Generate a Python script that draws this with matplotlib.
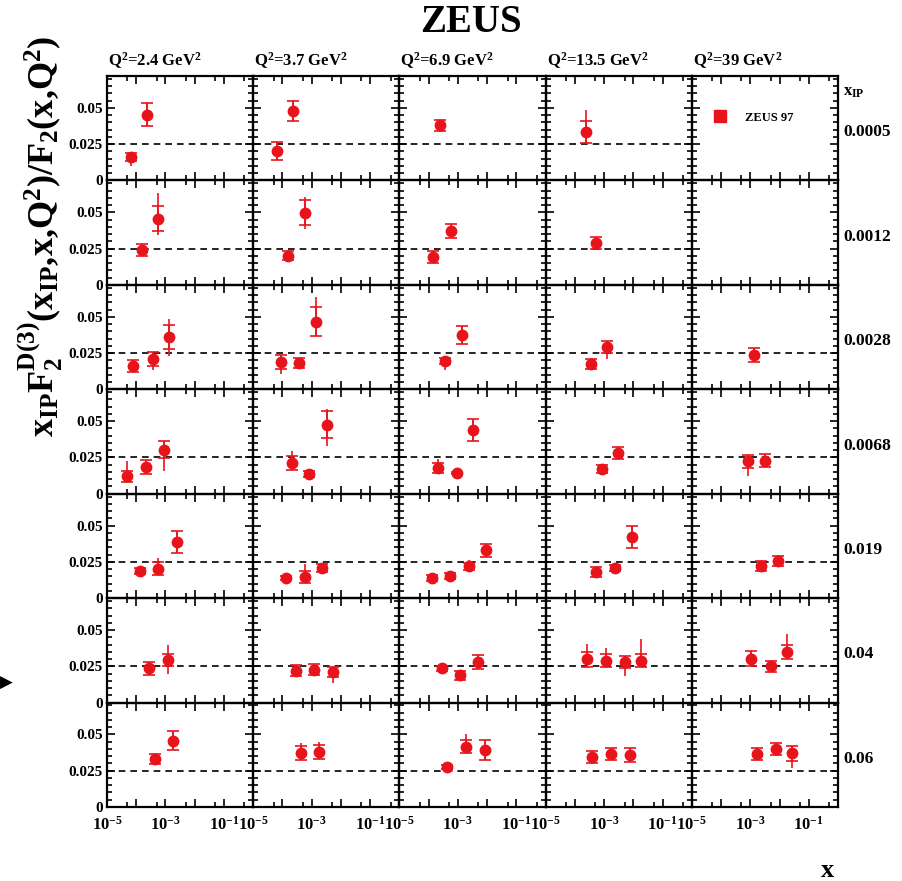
import numpy as np
import matplotlib
matplotlib.use('Agg')
import matplotlib.pyplot as plt
from matplotlib.ticker import FixedLocator, FixedFormatter, NullFormatter
from matplotlib.lines import Line2D

plt.rcParams['font.family'] = ['Liberation Serif', 'DejaVu Serif']
plt.rcParams['font.weight'] = 'bold'
plt.rcParams['mathtext.fontset'] = 'custom'
plt.rcParams['mathtext.rm'] = 'Liberation Serif:bold'
plt.rcParams['mathtext.it'] = 'Liberation Serif:bold'
plt.rcParams['mathtext.bf'] = 'Liberation Serif:bold'

# ---------------- data ----------------
q2_labels = [r'Q$^2$=2.4 GeV$^2$', r'Q$^2$=3.7 GeV$^2$', r'Q$^2$=6.9 GeV$^2$',
             r'Q$^2$=13.5 GeV$^2$', r'Q$^2$=39 GeV$^2$']
xpom_labels = ['0.0005', '0.0012', '0.0028', '0.0068', '0.019', '0.04', '0.06']
x_ticklabels = [r'10$^{-5}$', r'10$^{-3}$', r'10$^{-1}$']
y_ticklabels = ['0', '0.025', '0.05']

# x_IP = 0.0005
r1_col = [0, 0, 1, 1, 2, 3]
r1_x = [6.6e-5, 2.4e-4, 6.3e-5, 2.35e-4, 2.4e-4, 2.4e-4]
r1_y = [0.0161, 0.0454, 0.0202, 0.0477, 0.0380, 0.0334]
r1_stat = [0.0030, 0.0078, 0.0060, 0.0068, 0.0040, 0.0074]
r1_totlo = [0.0064, 0.0078, 0.0060, 0.0068, 0.0040, 0.0080]
r1_tothi = [0.0030, 0.0078, 0.0060, 0.0068, 0.0040, 0.0150]

# x_IP = 0.0012
r2_col = [0, 0, 1, 1, 2, 2, 3]
r2_x = [1.55e-4, 5.7e-4, 1.58e-4, 5.9e-4, 1.44e-4, 5.7e-4, 5.5e-4]
r2_y = [0.0239, 0.0456, 0.0202, 0.0497, 0.0190, 0.0370, 0.0290]
r2_stat = [0.0042, 0.0086, 0.0030, 0.0086, 0.0040, 0.0048, 0.0040]
r2_totlo = [0.0042, 0.0110, 0.0030, 0.0110, 0.0040, 0.0048, 0.0040]
r2_tothi = [0.0042, 0.0180, 0.0030, 0.0110, 0.0040, 0.0048, 0.0040]

# x_IP = 0.0028
r3_col = [0, 0, 0, 1, 1, 1, 2, 2, 3, 3, 4]
r3_x = [7.9e-5, 3.6e-4, 1.3e-3, 8.7e-5, 3.7e-4, 1.37e-3, 3.6e-4, 1.35e-3,
        3.5e-4, 1.28e-3, 1.36e-3]
r3_y = [0.0161, 0.0207, 0.0361, 0.0189, 0.0184, 0.0467, 0.0196, 0.0375,
        0.0173, 0.0292, 0.0235]
r3_stat = [0.0040, 0.0048, 0.0084, 0.0048, 0.0035, 0.0098, 0.0020, 0.0063,
           0.0035, 0.0040, 0.0048]
r3_totlo = [0.0040, 0.0074, 0.0130, 0.0085, 0.0035, 0.0098, 0.0060, 0.0063,
            0.0035, 0.0085, 0.0048]
r3_tothi = [0.0040, 0.0048, 0.0122, 0.0048, 0.0035, 0.0170, 0.0020, 0.0063,
            0.0035, 0.0040, 0.0048]

# x_IP = 0.0068
r4_col = [0, 0, 0, 1, 1, 1, 2, 2, 2, 3, 3, 4, 4]
r4_x = [5.0e-5, 2.1e-4, 9.2e-4, 2.06e-4, 8.3e-4, 3.3e-3, 2.14e-4, 9.1e-4,
        3.2e-3, 8.6e-4, 3.0e-3, 8.5e-4, 3.2e-3]
r4_y = [0.0120, 0.0184, 0.0304, 0.0212, 0.0136, 0.0477, 0.0177, 0.0143,
        0.0437, 0.0170, 0.0281, 0.0223, 0.0228]
r4_stat = [0.0040, 0.0046, 0.0057, 0.0046, 0.0020, 0.0090, 0.0035, 0.0010,
           0.0075, 0.0030, 0.0044, 0.0046, 0.0044]
r4_totlo = [0.0040, 0.0046, 0.0150, 0.0046, 0.0020, 0.0150, 0.0035, 0.0010,
            0.0075, 0.0030, 0.0044, 0.0104, 0.0044]
r4_tothi = [0.0103, 0.0046, 0.0057, 0.0082, 0.0030, 0.0104, 0.0060, 0.0010,
            0.0075, 0.0030, 0.0044, 0.0046, 0.0044]

# x_IP = 0.019
r5_col = [0, 0, 0, 1, 1, 1, 2, 2, 2, 2, 3, 3, 3, 4, 4]
r5_x = [1.35e-4, 5.7e-4, 2.55e-3, 1.32e-4, 5.9e-4, 2.3e-3, 1.27e-4, 5.4e-4,
        2.4e-3, 9.2e-3, 5.5e-4, 2.35e-3, 8.8e-3, 2.3e-3, 8.9e-3]
r5_y = [0.0185, 0.0204, 0.0388, 0.0137, 0.0144, 0.0208, 0.0139, 0.0155,
        0.0220, 0.0330, 0.0181, 0.0208, 0.0423, 0.0224, 0.0259]
r5_stat = [0.0020, 0.0043, 0.0075, 0.0015, 0.0043, 0.0030, 0.0020, 0.0020,
           0.0025, 0.0046, 0.0035, 0.0020, 0.0077, 0.0035, 0.0035]
r5_totlo = [0.0020, 0.0043, 0.0075, 0.0015, 0.0043, 0.0030, 0.0020, 0.0020,
            0.0025, 0.0046, 0.0035, 0.0020, 0.0077, 0.0035, 0.0035]
r5_tothi = [0.0020, 0.0074, 0.0075, 0.0015, 0.0090, 0.0030, 0.0020, 0.0020,
            0.0045, 0.0046, 0.0035, 0.0020, 0.0077, 0.0035, 0.0040]

# x_IP = 0.04
r6_col = [0, 0, 1, 1, 1, 2, 2, 2, 3, 3, 3, 3, 4, 4, 4]
r6_x = [2.8e-4, 1.2e-3, 2.8e-4, 1.2e-3, 5.5e-3, 2.8e-4, 1.18e-3, 5.0e-3,
        2.7e-4, 1.15e-3, 5.4e-3, 1.9e-2, 1.1e-3, 5.0e-3, 1.83e-2]
r6_y = [0.0235, 0.0292, 0.0221, 0.0228, 0.0209, 0.0235, 0.0189, 0.0279,
        0.0297, 0.0290, 0.0278, 0.0290, 0.0302, 0.0251, 0.0350]
r6_stat = [0.0043, 0.0040, 0.0040, 0.0040, 0.0035, 0.0015, 0.0030, 0.0050,
           0.0054, 0.0045, 0.0040, 0.0045, 0.0053, 0.0038, 0.0048]
r6_totlo = [0.0043, 0.0094, 0.0040, 0.0040, 0.0075, 0.0015, 0.0030, 0.0050,
            0.0054, 0.0045, 0.0097, 0.0045, 0.0053, 0.0038, 0.0048]
r6_tothi = [0.0043, 0.0108, 0.0040, 0.0040, 0.0035, 0.0015, 0.0030, 0.0050,
            0.0104, 0.0088, 0.0040, 0.0145, 0.0053, 0.0038, 0.0120]

# x_IP = 0.06
r7_col = [0, 0, 1, 1, 2, 2, 2, 3, 3, 3, 4, 4, 4]
r7_x = [4.4e-4, 1.87e-3, 4.2e-4, 1.82e-3, 4.1e-4, 1.85e-3, 8.6e-3, 3.9e-4,
        1.7e-3, 7.6e-3, 1.64e-3, 7.3e-3, 2.75e-2]
r7_y = [0.0331, 0.0458, 0.0371, 0.0378, 0.0278, 0.0417, 0.0394, 0.0343,
        0.0364, 0.0359, 0.0366, 0.0398, 0.0370]
r7_stat = [0.0035, 0.0067, 0.0048, 0.0048, 0.0015, 0.0048, 0.0070, 0.0040,
           0.0040, 0.0046, 0.0040, 0.0040, 0.0050]
r7_totlo = [0.0035, 0.0067, 0.0048, 0.0048, 0.0015, 0.0048, 0.0070, 0.0040,
            0.0040, 0.0046, 0.0040, 0.0040, 0.0104]
r7_tothi = [0.0035, 0.0067, 0.0070, 0.0070, 0.0015, 0.0088, 0.0070, 0.0040,
            0.0040, 0.0046, 0.0040, 0.0040, 0.0050]

rows = [
    (r1_col, r1_x, r1_y, r1_stat, r1_totlo, r1_tothi),
    (r2_col, r2_x, r2_y, r2_stat, r2_totlo, r2_tothi),
    (r3_col, r3_x, r3_y, r3_stat, r3_totlo, r3_tothi),
    (r4_col, r4_x, r4_y, r4_stat, r4_totlo, r4_tothi),
    (r5_col, r5_x, r5_y, r5_stat, r5_totlo, r5_tothi),
    (r6_col, r6_x, r6_y, r6_stat, r6_totlo, r6_tothi),
    (r7_col, r7_x, r7_y, r7_stat, r7_totlo, r7_tothi),
]

RED = '#e8141c'
W, H = 903, 881
fig = plt.figure(figsize=(W / 100, H / 100), dpi=100)
fig.patch.set_facecolor('white')

left_px, right_px, top_px, bot_px = 107, 838, 76, 807
nrow, ncol = 7, 5
pw = (right_px - left_px) / ncol
ph = (bot_px - top_px) / nrow

axes = [[None] * ncol for _ in range(nrow)]
for r in range(nrow):
    for c in range(ncol):
        x0 = (left_px + c * pw) / W
        y0 = 1 - (top_px + (r + 1) * ph) / H
        ax = fig.add_axes([x0, y0, pw / W, ph / H])
        axes[r][c] = ax
        ax.set_xscale('log')
        ax.set_xlim(1e-5, 1.0)
        ax.set_ylim(0, 0.072)
        ax.xaxis.set_major_locator(FixedLocator([1e-5, 1e-4, 1e-3, 1e-2, 1e-1, 1.0]))
        ax.xaxis.set_minor_locator(FixedLocator([5e-5, 5e-4, 5e-3, 5e-2, 5e-1]))
        ax.yaxis.set_major_locator(FixedLocator([0, 0.025, 0.05]))
        ax.yaxis.set_minor_locator(FixedLocator(np.arange(0.005, 0.0721, 0.005)))
        ax.xaxis.set_minor_formatter(NullFormatter())
        ax.tick_params(which='both', direction='in', top=True, right=True,
                       width=1.2, color='black')
        ax.tick_params(which='major', length=6)
        ax.tick_params(which='minor', length=3.5)
        for s in ax.spines.values():
            s.set_linewidth(1.6)
        if r == nrow - 1:
            ax.xaxis.set_major_formatter(FixedFormatter(
                [x_ticklabels[0], '', x_ticklabels[1], '', x_ticklabels[2], '']))
            ax.tick_params(axis='x', which='major', labelsize=12, pad=6)
        else:
            ax.xaxis.set_major_formatter(NullFormatter())
        if c == 0:
            ax.yaxis.set_major_formatter(FixedFormatter(y_ticklabels))
            ax.tick_params(axis='y', which='major', labelsize=11, pad=3)
            for lab in ax.get_yticklabels():
                lab.set_fontweight('bold')
        else:
            ax.yaxis.set_major_formatter(NullFormatter())
        ax.yaxis.set_minor_formatter(NullFormatter())
        ax.patch.set_alpha(0)

for r, (cols, xs, ys, st, tlo, thi) in enumerate(rows):
    cols = np.array(cols)
    xs, ys = np.array(xs), np.array(ys)
    st, tlo, thi = np.array(st), np.array(tlo), np.array(thi)
    for c in range(ncol):
        m = cols == c
        if not m.any():
            continue
        ax = axes[r][c]
        ax.axhline(0.025, color='black', ls=(0, (4, 3)), lw=1.2, zorder=1)
        ax.errorbar(xs[m], ys[m], yerr=[tlo[m], thi[m]], fmt='none',
                    ecolor=RED, elinewidth=1.2, capsize=0, zorder=3)
        ax.errorbar(xs[m], ys[m], yerr=st[m], fmt='o', color=RED, ms=7.5,
                    ecolor=RED, elinewidth=1.2, capsize=4, capthick=1.2, zorder=4)

# legend in the top-right panel
leg_ax = axes[0][4]
h = Line2D([], [], marker='s', color=RED, ls='none', ms=9)
leg = leg_ax.legend([h], ['ZEUS 97'], loc='center left', bbox_to_anchor=(0.07, 0.6),
                    frameon=False, handlelength=1.0, handletextpad=1.5,
                    prop={'family': 'Liberation Serif', 'weight': 'bold', 'size': 9})

# column titles
for c in range(ncol):
    fig.text((left_px + c * pw + 1) / W, 1 - 66 / H, q2_labels[c],
             ha='left', va='baseline', fontsize=12, fontweight='bold')

# row labels (x_IP)
fig.text(843 / W, 1 - 92 / H, r'x$_{\rm IP}$', ha='left', va='center',
         fontsize=12, fontweight='bold')
for r in range(nrow):
    yc = top_px + (r + 0.5) * ph + 4
    fig.text(843 / W, 1 - yc / H, xpom_labels[r], ha='left', va='center',
             fontsize=12.5, fontweight='bold')

# title
fig.text(471 / W, 1 - 22 / H, 'ZEUS', ha='center', va='center',
         fontsize=28, fontweight='bold')

# y label
fig.text(40 / W, 1 - 236 / H,
         r'x$_{\rm IP}$F$_2^{\rm D(3)}$(x$_{\rm IP}$,x,Q$^2$)/F$_2$(x,Q$^2$)',
         rotation=90, ha='center', va='center', fontsize=26, fontweight='bold')

# x label
fig.text(828 / W, 1 - 877 / H, 'x', ha='center', va='baseline',
         fontsize=19, fontweight='bold')

# arrow at left margin
fig.text(0, 1 - 683 / H, '\u25B6', ha='left', va='center', fontsize=12,
         family='DejaVu Sans', color='black')

fig.savefig('out.png', dpi=100, facecolor='white')
